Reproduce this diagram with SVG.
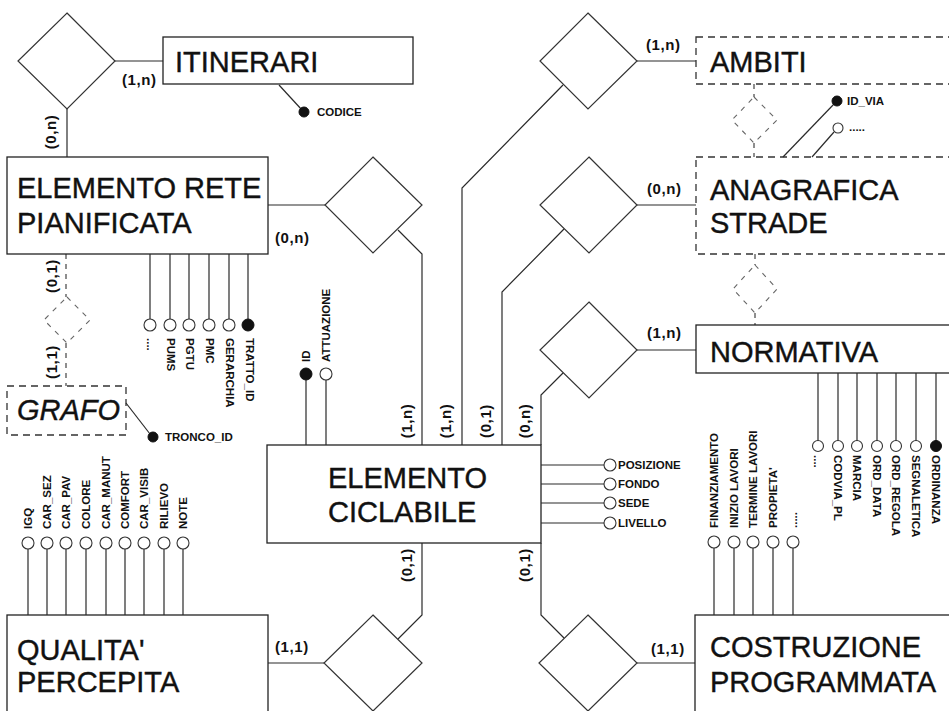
<svg xmlns="http://www.w3.org/2000/svg" width="949" height="711" viewBox="0 0 949 711">
<style>
.ln{stroke:#2a2a2a;stroke-width:1.2;fill:none}
.dl{stroke:#444;stroke-width:1.2;fill:none;stroke-dasharray:5 5}
.box{fill:#fff;stroke:#222;stroke-width:1.3}
.dbox{fill:#fff;stroke:#333;stroke-width:1.3;stroke-dasharray:7 5}
.rel{fill:#fff;stroke:#333;stroke-width:1.2}
.drel{fill:none;stroke:#666;stroke-width:1.1;stroke-dasharray:5 6}
.big{font-family:"Liberation Sans",Arial,sans-serif;font-size:29px;fill:#111;stroke:#111;stroke-width:0.4}
.it{font-style:italic}
.card{font-family:"Liberation Sans",Arial,sans-serif;font-size:15px;font-weight:bold;fill:#111;letter-spacing:0.6px}
.att{font-family:"Liberation Sans",Arial,sans-serif;font-size:11.5px;font-weight:bold;fill:#111}
.ao{fill:#fff;stroke:#333;stroke-width:1.1}
.af{fill:#111;stroke:#111;stroke-width:1}
</style>
<rect width="949" height="711" fill="#fff"/>

<g id="connectors">
  <path class="ln" d="M115,61 H163"/>
  <path class="ln" d="M67,109 V157"/>
  <path class="ln" d="M637,61 H696"/>
  <path class="ln" d="M563,85 L462,188 V445"/>
  <path class="ln" d="M268,205 H325"/>
  <path class="ln" d="M398,230 L422,254 V445"/>
  <path class="ln" d="M637,205 H696"/>
  <path class="ln" d="M564,229 L502,292 V445"/>
  <path class="ln" d="M637,350 H696"/>
  <path class="ln" d="M563,373 L541,395 V445"/>
  <path class="ln" d="M422,543 V615 L398,639"/>
  <path class="ln" d="M268,663 H324"/>
  <path class="ln" d="M541,543 V615 L564,638"/>
  <path class="ln" d="M637,663 H695"/>
  <path class="dl" d="M754,84 V97 M754,143 V157"/>
  <path class="dl" d="M755,254 V265 M755,313 V325"/>
  <path class="dl" d="M66,254 V297 M66,343 V386"/>
  <text class="card" x="122" y="85">(1,n)</text>
  <text class="card" transform="translate(56,132) rotate(-90)" text-anchor="middle">(0,n)</text>
  <text class="card" x="646" y="50">(1,n)</text>
  <text class="card" x="275" y="243">(0,n)</text>
  <text class="card" x="647" y="194">(0,n)</text>
  <text class="card" x="647" y="338">(1,n)</text>
  <text class="card" transform="translate(57,276) rotate(-90)" text-anchor="middle">(0,1)</text>
  <text class="card" transform="translate(57,362) rotate(-90)" text-anchor="middle">(1,1)</text>
  <text class="card" transform="translate(412,421) rotate(-90)" text-anchor="middle">(1,n)</text>
  <text class="card" transform="translate(451,421) rotate(-90)" text-anchor="middle">(1,n)</text>
  <text class="card" transform="translate(491,421) rotate(-90)" text-anchor="middle">(0,1)</text>
  <text class="card" transform="translate(530,421) rotate(-90)" text-anchor="middle">(0,n)</text>
  <text class="card" transform="translate(412,565) rotate(-90)" text-anchor="middle">(0,1)</text>
  <text class="card" transform="translate(530,565) rotate(-90)" text-anchor="middle">(0,1)</text>
  <text class="card" x="275" y="652">(1,1)</text>
  <text class="card" x="651" y="654">(1,1)</text>
</g>

<g id="rel-itinerari">
  <polygon class="rel" points="67,13 115,61 67,109 18,61"/>
</g>
<g id="rel-ambiti">
  <polygon class="rel" points="588,13 637,61 588,109 540,61"/>
</g>
<g id="rel-erp-ec">
  <polygon class="rel" points="373,157 422,205 373,253 325,205"/>
</g>
<g id="rel-anagrafica-ec">
  <polygon class="rel" points="589,157 637,205 589,253 540,205"/>
</g>
<g id="rel-normativa-ec">
  <polygon class="rel" points="589,302 637,350 589,398 540,350"/>
</g>
<g id="rel-qp-ec">
  <polygon class="rel" points="373,615 422,663 373,711 324,663"/>
</g>
<g id="rel-cp-ec">
  <polygon class="rel" points="588,615 637,663 588,711 539,663"/>
</g>
<g id="rel-ambiti-anagrafica">
  <polygon class="drel" points="754,97 777,120 754,143 732,120"/>
</g>
<g id="rel-anagrafica-normativa">
  <polygon class="drel" points="755,265 777,289 755,313 733,289"/>
</g>
<g id="rel-erp-grafo">
  <polygon class="drel" points="67,297 90,320 67,343 44,320"/>
</g>

<g id="itinerari">
  <rect class="box" x="163" y="37" width="250" height="47"/>
  <text class="big" x="175" y="72">ITINERARI</text>
  <path class="ln" d="M279,85 L302,110"/>
  <circle class="af" cx="304" cy="112" r="5"/>
  <text class="att" x="317" y="116" font-size="10.5">CODICE</text>
</g>

<g id="ambiti">
  <rect class="dbox" x="696" y="37" width="262" height="47"/>
  <text class="big" x="710" y="72">AMBITI</text>
</g>

<g id="anagrafica-strade">
  <rect class="dbox" x="696" y="157" width="262" height="97"/>
  <text class="big" x="710" y="200">ANAGRAFICA</text>
  <text class="big" x="710" y="233">STRADE</text>
  <path class="ln" d="M783,157 L834,104"/>
  <circle class="af" cx="837" cy="101" r="5"/>
  <text class="att" x="847" y="105" font-size="10">ID_VIA</text>
  <path class="ln" d="M812,157 L834,132"/>
  <circle class="ao" cx="838" cy="128" r="5"/>
  <text class="att" x="849" y="131" font-size="10">.....</text>
</g>

<g id="elemento-rete-pianificata">
  <rect class="box" x="7" y="157" width="261" height="97"/>
  <text class="big" x="17" y="198">ELEMENTO RETE</text>
  <text class="big" x="17" y="233">PIANIFICATA</text>
  <path class="ln" d="M150,254 V319 M170,254 V319 M189,254 V319 M209,254 V319 M229,254 V319 M248,254 V319"/>
  <circle class="ao" cx="150" cy="325" r="6"/>
  <circle class="ao" cx="170" cy="325" r="6"/>
  <circle class="ao" cx="189" cy="325" r="6"/>
  <circle class="ao" cx="209" cy="325" r="6"/>
  <circle class="ao" cx="229" cy="325" r="6"/>
  <circle class="af" cx="248" cy="325" r="6"/>
  <text class="att" transform="translate(147,338) rotate(90)">....</text>
  <text class="att" transform="translate(167,338) rotate(90)">PUMS</text>
  <text class="att" transform="translate(186,338) rotate(90)">PGTU</text>
  <text class="att" transform="translate(206,338) rotate(90)">PMC</text>
  <text class="att" transform="translate(226,338) rotate(90)">GERARCHIA</text>
  <text class="att" transform="translate(246,338) rotate(90)">TRATTO_ID</text>
</g>

<g id="grafo">
  <rect class="dbox" x="7" y="386" width="119" height="49"/>
  <text class="big it" x="17" y="420">GRAFO</text>
  <path class="ln" d="M126,403 L150,434"/>
  <circle class="af" cx="153" cy="437" r="5"/>
  <text class="att" x="165" y="441">TRONCO_ID</text>
</g>

<g id="normativa">
  <rect class="box" x="696" y="325" width="262" height="48"/>
  <text class="big" x="710" y="362">NORMATIVA</text>
  <path class="ln" d="M818,373 V441 M838,373 V441 M857,373 V441 M877,373 V441 M896,373 V441 M916,373 V441 M936,373 V441"/>
  <circle class="ao" cx="818" cy="446" r="5.5"/>
  <circle class="ao" cx="838" cy="446" r="5.5"/>
  <circle class="ao" cx="857" cy="446" r="5.5"/>
  <circle class="ao" cx="877" cy="446" r="5.5"/>
  <circle class="ao" cx="896" cy="446" r="5.5"/>
  <circle class="ao" cx="916" cy="446" r="5.5"/>
  <circle class="af" cx="936" cy="446" r="5.5"/>
  <text class="att" transform="translate(814,455) rotate(90)">....</text>
  <text class="att" transform="translate(834,455) rotate(90)">CODVIA_PL</text>
  <text class="att" transform="translate(853,455) rotate(90)">MARCIA</text>
  <text class="att" transform="translate(873,455) rotate(90)">ORD_DATA</text>
  <text class="att" transform="translate(892,455) rotate(90)">ORD_REGOLA</text>
  <text class="att" transform="translate(912,455) rotate(90)">SEGNALETICA</text>
  <text class="att" transform="translate(932,455) rotate(90)">ORDINANZA</text>
</g>

<g id="elemento-ciclabile">
  <rect class="box" x="267" y="445" width="274" height="98"/>
  <text class="big" x="328" y="488">ELEMENTO</text>
  <text class="big" x="328" y="522">CICLABILE</text>
  <path class="ln" d="M306,380 V445 M326,380 V445"/>
  <circle class="af" cx="306" cy="374" r="6"/>
  <circle class="ao" cx="326" cy="374" r="6"/>
  <text class="att" transform="translate(310,362) rotate(-90)">ID</text>
  <text class="att" transform="translate(330,362) rotate(-90)">ATTUAZIONE</text>
  <path class="ln" d="M541,465 H604 M541,484 H604 M541,503 H604 M541,523 H604"/>
  <circle class="ao" cx="610" cy="465" r="6"/>
  <circle class="ao" cx="610" cy="484" r="6"/>
  <circle class="ao" cx="610" cy="503" r="6"/>
  <circle class="ao" cx="610" cy="523" r="6"/>
  <text class="att" x="618" y="469" font-size="12.5">POSIZIONE</text>
  <text class="att" x="618" y="488" font-size="12.5">FONDO</text>
  <text class="att" x="618" y="507" font-size="12.5">SEDE</text>
  <text class="att" x="618" y="527" font-size="12.5">LIVELLO</text>
</g>

<g id="qualita-percepita">
  <rect class="box" x="7" y="615" width="261" height="110"/>
  <text class="big" x="17" y="660">QUALITA'</text>
  <text class="big" x="17" y="692">PERCEPITA</text>
  <path class="ln" d="M28,549 V615 M47,549 V615 M66,549 V615 M86,549 V615 M106,549 V615 M125,549 V615 M144,549 V615 M164,549 V615 M183,549 V615"/>
  <circle class="ao" cx="28" cy="543" r="6"/>
  <circle class="ao" cx="47" cy="543" r="6"/>
  <circle class="ao" cx="66" cy="543" r="6"/>
  <circle class="ao" cx="86" cy="543" r="6"/>
  <circle class="ao" cx="106" cy="543" r="6"/>
  <circle class="ao" cx="125" cy="543" r="6"/>
  <circle class="ao" cx="144" cy="543" r="6"/>
  <circle class="ao" cx="164" cy="543" r="6"/>
  <circle class="ao" cx="183" cy="543" r="6"/>
  <text class="att" transform="translate(32,529) rotate(-90)">IGQ</text>
  <text class="att" transform="translate(51,529) rotate(-90)">CAR_SEZ</text>
  <text class="att" transform="translate(70,529) rotate(-90)">CAR_PAV</text>
  <text class="att" transform="translate(90,529) rotate(-90)">COLORE</text>
  <text class="att" transform="translate(110,529) rotate(-90)">CAR_MANUT</text>
  <text class="att" transform="translate(129,529) rotate(-90)">COMFORT</text>
  <text class="att" transform="translate(148,529) rotate(-90)">CAR_VISIB</text>
  <text class="att" transform="translate(168,529) rotate(-90)">RILIEVO</text>
  <text class="att" transform="translate(187,529) rotate(-90)">NOTE</text>
</g>

<g id="costruzione-programmata">
  <rect class="box" x="695" y="615" width="263" height="110"/>
  <text class="big" x="710" y="657">COSTRUZIONE</text>
  <text class="big" x="710" y="692">PROGRAMMATA</text>
  <path class="ln" d="M714,548 V615 M734,548 V615 M753,548 V615 M773,548 V615 M793,548 V615"/>
  <circle class="ao" cx="714" cy="542" r="6"/>
  <circle class="ao" cx="734" cy="542" r="6"/>
  <circle class="ao" cx="753" cy="542" r="6"/>
  <circle class="ao" cx="773" cy="542" r="6"/>
  <circle class="ao" cx="793" cy="542" r="6"/>
  <text class="att" transform="translate(718,528) rotate(-90)">FINANZIAMENTO</text>
  <text class="att" transform="translate(738,528) rotate(-90)">INIZIO LAVORI</text>
  <text class="att" transform="translate(757,528) rotate(-90)">TERMINE LAVORI</text>
  <text class="att" transform="translate(777,528) rotate(-90)">PROPIETA'</text>
  <text class="att" transform="translate(797,528) rotate(-90)">.....</text>
</g>
</svg>
